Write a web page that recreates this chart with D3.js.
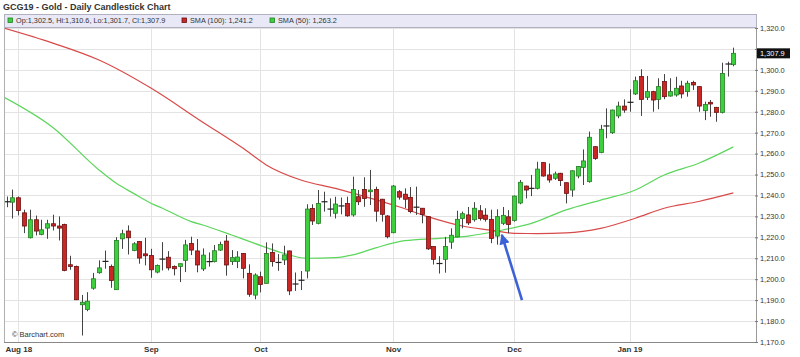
<!DOCTYPE html>
<html><head><meta charset="utf-8">
<script src="https://cdn.jsdelivr.net/npm/d3@7/dist/d3.min.js"></script>
<style>body{margin:0;background:#fff}svg{display:block;font-family:"Liberation Sans",Arial,sans-serif}</style>
</head><body><svg id="c" width="800" height="357"></svg>
<script>
// ---------- DATA ----------
const title = "GCG19 - Gold - Daily Candlestick Chart";
const open = [
1237.0,1236.8,1238.9,1231.7,1219.8,1228.4,1221.4,1224.4,1226.5,1225.4,
1226.1,1206.9,1206.1,1187.8,1185.5,1195.7,1203.1,1208.5,1206.1,1195.0,
1219.3,1223.0,1213.7,1218.0,1212.1,1211.3,1203.4,1209.6,1210.5,1206.1,
1206.1,1209.0,1217.1,1213.5,1204.9,1208.4,1208.4,1213.9,1218.2,1208.4,
1208.4,1212.3,1202.8,1192.4,1201.2,1198.0,1212.8,1208.0,1209.2,1213.5,
1197.7,1199.5,1203.9,1233.8,1226.7,1237.0,1233.5,1231.5,1235.0,1236.2,
1230.7,1239.4,1242.9,1241.8,1242.9,1238.2,1230.2,1222.2,1241.8,1240.6,
1239.1,1234.4,1233.9,1229.9,1215.6,1207.5,1209.5,1217.7,1220.2,1229.0,
1230.7,1228.4,1232.7,1230.6,1228.6,1220.6,1226.7,1229.8,1228.1,1236.4,
1244.5,1243.4,1243.4,1255.7,1249.8,1248.2,1250.6,1246.1,1242.6,1249.3,
1253.4,1246.6,1263.3,1260.5,1273.2,1270.0,1278.0,1282.7,1284.5,1288.5,
1296.8,1286.9,1289.6,1285.9,1294.4,1287.5,1288.0,1292.3,1289.6,1294.0,
1292.0,1280.5,1284.5,1282.1,1279.7,1302.8,1302.5];
const high = [
1239.5,1242.8,1239.5,1233.2,1233.2,1230.4,1228.4,1228.4,1230.8,1230.0,
1226.5,1211.2,1206.5,1192.5,1193.8,1203.0,1209.0,1213.7,1207.0,1220.1,
1223.6,1225.7,1217.7,1218.2,1219.8,1214.5,1207.0,1217.7,1213.4,1206.6,
1207.5,1218.8,1220.3,1219.2,1214.7,1212.8,1216.3,1217.9,1221.1,1213.9,
1213.4,1212.5,1207.1,1202.8,1203.6,1217.6,1217.1,1212.0,1216.0,1213.7,
1203.2,1203.9,1235.8,1235.8,1242.6,1241.8,1238.6,1239.4,1239.0,1239.4,
1249.0,1242.6,1248.7,1252.2,1244.2,1238.4,1230.6,1245.0,1242.6,1243.4,
1244.0,1244.2,1234.0,1230.0,1215.7,1211.0,1220.2,1224.3,1232.7,1232.3,
1234.5,1236.8,1235.4,1233.9,1233.2,1233.4,1234.5,1233.0,1240.0,1247.4,
1244.7,1249.8,1256.1,1255.9,1255.3,1251.4,1250.8,1246.3,1252.0,1254.0,
1262.0,1270.5,1263.5,1273.7,1281.6,1281.0,1284.8,1285.9,1290.7,1296.8,
1300.3,1297.1,1290.0,1296.0,1298.0,1296.0,1296.7,1294.8,1294.8,1294.8,
1292.2,1284.8,1285.6,1282.3,1303.4,1303.9,1310.6];
const low = [
1234.4,1229.0,1230.5,1222.0,1219.5,1220.9,1221.0,1219.3,1223.3,1218.5,
1203.8,1204.5,1190.0,1173.1,1184.7,1195.0,1202.6,1205.0,1195.9,1195.0,
1214.5,1211.8,1213.4,1207.4,1206.6,1200.7,1202.8,1204.2,1204.2,1201.8,
1198.6,1203.4,1211.5,1203.3,1203.9,1206.0,1208.0,1213.5,1201.7,1206.8,
1205.3,1200.4,1191.6,1190.4,1193.7,1198.0,1206.0,1204.0,1206.8,1192.4,
1194.4,1194.8,1200.4,1225.9,1226.2,1232.3,1229.9,1229.0,1231.0,1229.8,
1229.9,1235.4,1234.6,1235.4,1227.5,1227.5,1219.5,1222.0,1238.0,1234.0,
1231.5,1230.7,1226.7,1214.0,1207.0,1202.7,1203.1,1214.5,1220.0,1224.3,
1225.9,1227.5,1228.0,1227.5,1217.2,1216.5,1225.9,1222.0,1227.5,1235.8,
1238.6,1239.7,1242.9,1249.0,1246.1,1247.4,1244.5,1236.2,1239.4,1248.2,
1245.0,1246.1,1257.0,1260.2,1267.3,1269.4,1276.9,1279.5,1280.0,1288.0,
1278.0,1285.6,1280.0,1281.2,1286.0,1287.2,1287.2,1286.4,1287.2,1290.4,
1280.0,1276.0,1277.6,1275.2,1279.2,1296.8,1301.7];
const close = [
1237.0,1238.9,1232.8,1225.4,1228.4,1223.0,1223.6,1226.5,1225.4,1224.4,
1204.2,1206.1,1190.2,1189.0,1189.5,1200.2,1205.4,1208.5,1199.4,1218.5,
1221.7,1219.8,1216.9,1210.1,1211.2,1204.5,1206.6,1209.6,1205.4,1205.0,
1207.4,1216.4,1213.9,1206.8,1211.5,1208.4,1213.6,1216.6,1206.8,1210.3,
1210.6,1205.2,1192.8,1202.0,1197.5,1212.3,1208.4,1208.0,1211.6,1194.4,
1197.7,1199.5,1233.5,1227.8,1236.2,1237.0,1233.5,1235.9,1235.0,1230.3,
1242.9,1237.0,1238.6,1242.6,1232.5,1231.0,1220.3,1244.5,1239.2,1238.2,
1232.3,1234.4,1230.9,1214.5,1209.5,1207.5,1215.6,1221.0,1228.6,1231.3,
1226.9,1233.9,1229.0,1228.6,1219.5,1229.9,1230.5,1226.1,1239.7,1246.3,
1242.6,1243.4,1252.6,1249.3,1247.4,1250.3,1247.1,1241.0,1251.8,1253.8,
1256.5,1267.8,1257.7,1271.6,1273.2,1280.8,1282.7,1280.8,1284.5,1294.8,
1285.9,1289.6,1285.6,1292.0,1287.2,1289.6,1291.2,1288.5,1293.6,1292.8,
1282.7,1283.5,1283.7,1279.7,1298.3,1302.8,1307.9];

// moving averages sampled at trading-day indices
const sma100Idx = [-0.5, 8, 16, 25, 34, 41, 45, 51, 57, 62, 68, 73, 79, 84, 88, 92, 97, 103, 109, 114, 120, 126];
const sma100    = [1320, 1312.8, 1304.7, 1291.3, 1275, 1262.5, 1254.6, 1247.4, 1243.4, 1239.6, 1234.6, 1229.9, 1225.4, 1223.4, 1221.9, 1221.8, 1222.1, 1224.3, 1229.1, 1233.9, 1237.1, 1241.2];
const sma50Idx  = [-0.5, 8, 16, 19, 22, 25, 27, 32, 34, 39, 43, 48, 52, 57, 60, 64, 69, 75, 80, 86, 91, 97, 103, 109, 114, 120, 126];
const sma50     = [1287, 1272.5, 1252.2, 1245.8, 1241, 1236.3, 1233.9, 1227.5, 1225.9, 1221.1, 1217.1, 1212.4, 1210, 1210.3, 1211.6, 1215, 1218.4, 1219.5, 1220.6, 1223.5, 1226.7, 1233.1, 1237.8, 1242.6, 1249.8, 1255.4, 1263.2];

const yTicks = [1170,1180,1190,1200,1210,1220,1230,1240,1250,1260,1270,1280,1290,1300,1310,1320];
const monthIdx = [2, 25, 44, 67, 88, 108];
const monthLabels = ["Aug 18", "Sep", "Oct", "Nov", "Dec", "Jan 19"];

const legendItems = [
  {label: "Op:1,302.5, Hi:1,310.6, Lo:1,301.7, Cl:1,307.9", color: "#3ecf3e", stroke: "#237f23"},
  {label: "SMA (100): 1,241.2", color: "#c62828", stroke: "#6e1010"},
  {label: "SMA (50): 1,263.2", color: "#3ecf3e", stroke: "#237f23"}
];
const lastPrice = 1307.9;
// annotation arrow: [trading-day index, price]
const arrowTail = [89.35, 1190.0];
const arrowTip  = [85.85, 1221.2];

// ---------- LAYOUT ----------
const L = 4, R = 756, T = 14, B = 342, LEG_H = 13;
const svg = d3.select("#c");
const x = d3.scaleLinear().domain([-0.47, 129.93]).range([L, R]);
const y = d3.scaleLinear().domain([1170, 1320]).range([B, 28]);

const GREEN = "#3ecf3e", GREEN_S = "#237f23", RED = "#c92626", RED_S = "#6e1010";

svg.append("rect").attr("width", 800).attr("height", 357).attr("fill", "#fff");

// title
svg.append("text").attr("x", 3).attr("y", 10).attr("font-size", 9).attr("font-weight", "bold")
  .attr("fill", "#333").text(title);

// grid
const grid = svg.append("g");
grid.selectAll("line.h").data(yTicks.filter(d => d > 1170)).join("line")
  .attr("x1", L).attr("x2", R).attr("y1", d => Math.round(y(d)) + 0.5).attr("y2", d => Math.round(y(d)) + 0.5)
  .attr("stroke", "#e3e3e3").attr("stroke-width", 1);
grid.selectAll("line.v").data(monthIdx).join("line")
  .attr("x1", d => Math.round(x(d)) + 0.5).attr("x2", d => Math.round(x(d)) + 0.5)
  .attr("y1", T + LEG_H).attr("y2", B)
  .attr("stroke", "#e3e3e3").attr("stroke-width", 1);

// frame
svg.append("line").attr("x1", L + 0.5).attr("x2", L + 0.5).attr("y1", T).attr("y2", B).attr("stroke", "#b0b0b0");
svg.append("line").attr("x1", R + 0.5).attr("x2", R + 0.5).attr("y1", T).attr("y2", B).attr("stroke", "#999");
svg.append("line").attr("x1", L).attr("x2", R + 1).attr("y1", B + 0.5).attr("y2", B + 0.5).attr("stroke", "#888");

// clip
svg.append("clipPath").attr("id", "clip").append("rect")
  .attr("x", L + 1).attr("y", T + LEG_H).attr("width", R - L - 1).attr("height", B - T - LEG_H);
const plot = svg.append("g").attr("clip-path", "url(#clip)");

// moving averages
const lineGen = d3.line().x(d => x(d[0])).y(d => y(d[1])).curve(d3.curveMonotoneX);
plot.append("path").datum(sma100Idx.map((d, i) => [d, sma100[i]]))
  .attr("d", lineGen).attr("fill", "none").attr("stroke", "#d94a4a").attr("stroke-width", 1.2);
plot.append("path").datum(sma50Idx.map((d, i) => [d, sma50[i]]))
  .attr("d", lineGen).attr("fill", "none").attr("stroke", "#5cd65c").attr("stroke-width", 1.2);

// candles
const candles = open.map((o, i) => ({i, o, h: high[i], l: low[i], c: close[i]}));
const cg = plot.append("g");
cg.selectAll("line.w").data(candles).join("line")
  .attr("x1", d => Math.round(x(d.i)) + 0.5).attr("x2", d => Math.round(x(d.i)) + 0.5)
  .attr("y1", d => y(d.h)).attr("y2", d => y(d.l))
  .attr("stroke", "#444").attr("stroke-width", 1);
const bw = 4;
cg.selectAll("rect.b").data(candles.filter(d => d.o !== d.c)).join("rect")
  .attr("x", d => Math.round(x(d.i)) + 0.5 - bw / 2)
  .attr("y", d => y(Math.max(d.o, d.c)))
  .attr("width", bw)
  .attr("height", d => Math.max(0.8, Math.abs(y(d.o) - y(d.c))))
  .attr("fill", d => d.c > d.o ? GREEN : RED)
  .attr("stroke", d => d.c > d.o ? GREEN_S : RED_S)
  .attr("stroke-width", 0.8);
cg.selectAll("line.d").data(candles.filter(d => d.o === d.c)).join("line")
  .attr("x1", d => Math.round(x(d.i)) + 0.5 - 3).attr("x2", d => Math.round(x(d.i)) + 0.5 + 3)
  .attr("y1", d => y(d.c)).attr("y2", d => y(d.c))
  .attr("stroke", "#222").attr("stroke-width", 1.2);

// legend bar
svg.append("rect").attr("x", L + 0.5).attr("y", T + 0.5).attr("width", R - L).attr("height", LEG_H)
  .attr("fill", "#e8e8f6").attr("stroke", "#b0b0c0");
const legX = [8, 182, 270];
const lg = svg.selectAll("g.leg").data(legendItems).join("g")
  .attr("transform", (d, i) => `translate(${legX[i]},${T + 3.5})`);
lg.append("rect").attr("width", 4.5).attr("height", 4.5).attr("x", 0).attr("y", 0.5)
  .attr("fill", d => d.color).attr("stroke", d => d.stroke).attr("stroke-width", 0.8);
lg.append("text").attr("x", 8).attr("y", 5.6).attr("font-size", 7.3).attr("fill", "#333").text(d => d.label);

// y axis (labels hidden where the last-price box sits)
const fmt = d3.format(",.1f");
const yAxis = d3.axisRight(y).tickValues(yTicks)
  .tickFormat(d => Math.abs(y(d) - y(lastPrice)) < 10 ? "" : fmt(d))
  .tickSize(3).tickPadding(2);
const ya = svg.append("g").attr("transform", `translate(${R - 1},0)`).call(yAxis);
ya.select(".domain").remove();
ya.selectAll(".tick line").attr("stroke", "#777");
ya.selectAll(".tick text").attr("font-size", 7.4).attr("fill", "#333")
  .attr("font-family", '"Liberation Sans",Arial,sans-serif');

// last price box
const lp = svg.append("g").attr("transform", `translate(${R + 1},${y(lastPrice)})`);
lp.append("rect").attr("x", 0).attr("y", -5).attr("width", 33).attr("height", 10).attr("fill", "#111");
lp.append("text").attr("x", 3).attr("y", 2.7).attr("font-size", 7.4).attr("fill", "#fff")
  .text(fmt(lastPrice));

// x axis
const xAxis = d3.axisBottom(x).tickValues(monthIdx).tickFormat((d, i) => monthLabels[i]).tickSize(0).tickPadding(4);
const xa = svg.append("g").attr("transform", `translate(0,${B})`).call(xAxis);
xa.select(".domain").remove();
xa.selectAll(".tick text").attr("font-size", 8).attr("font-weight", "bold").attr("fill", "#333")
  .attr("font-family", '"Liberation Sans",Arial,sans-serif');

// watermark
svg.append("text").attr("x", 12).attr("y", 337).attr("font-size", 7.5).attr("fill", "#333").text("\u00a9 Barchart.com");

// arrow annotation
const defs = svg.append("defs");
defs.append("marker").attr("id", "ah").attr("viewBox", "0 0 10 10").attr("refX", 9).attr("refY", 5)
  .attr("markerWidth", 4.2).attr("markerHeight", 4).attr("orient", "auto")
  .append("path").attr("d", "M0,0L10,5L0,10z").attr("fill", "#3d62d8");
svg.append("line")
  .attr("x1", x(arrowTail[0])).attr("y1", y(arrowTail[1]))
  .attr("x2", x(arrowTip[0])).attr("y2", y(arrowTip[1]))
  .attr("stroke", "#3d62d8").attr("stroke-width", 2.6).attr("marker-end", "url(#ah)");
</script></body></html>
